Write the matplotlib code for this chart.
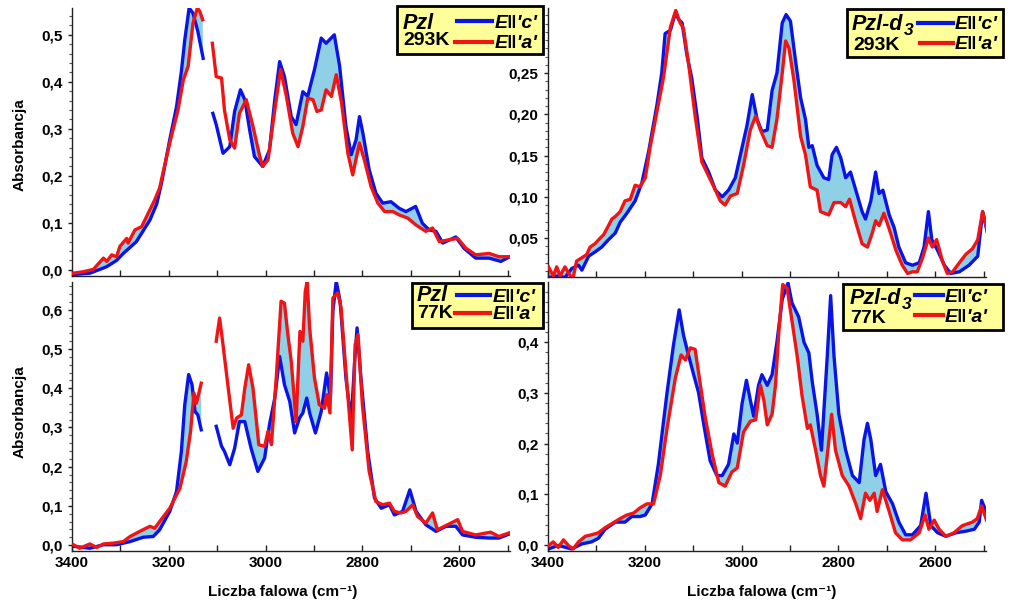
import numpy as np
import matplotlib
matplotlib.use("Agg")
import matplotlib.pyplot as plt
from matplotlib.patches import Rectangle
from matplotlib.lines import Line2D
from matplotlib.ticker import MultipleLocator, FixedLocator, FuncFormatter

plt.rcParams['font.family'] = ['Liberation Sans', 'DejaVu Sans']
plt.rcParams['font.weight'] = 'bold'

nan = np.nan

# ---- Pzl 293K ----
wn_pzl293_c = [3397, 3363, 3335, 3328, 3308, 3294, 3267, 3239, 3225, 3215, 3198, 3184, 3174, 3167, 3158, 3150, 3140, 3129, nan,
               3109, 3102, 3088, 3074, 3064, 3052, 3043, 3033, 3023, 3006, 2992, 2981, 2971, 2961, 2947, 2937, 2923, 2913,
               2899, 2885, 2875, 2858, 2847, 2834, 2823, 2813, 2806, 2799, 2786, 2772, 2758, 2741, 2724, 2710, 2690, 2676,
               2662, 2648, 2634, 2607, 2590, 2566, 2538, 2514, 2497]
ab_pzl293_c = [-0.010, -0.007, 0.004, 0.007, 0.020, 0.035, 0.060, 0.106, 0.140, 0.185, 0.277, 0.347, 0.422, 0.489, 0.557, 0.546, 0.507, 0.450, nan,
               0.333, 0.309, 0.248, 0.262, 0.337, 0.383, 0.362, 0.298, 0.241, 0.220, 0.255, 0.362, 0.443, 0.411, 0.326, 0.309, 0.379, 0.369,
               0.426, 0.493, 0.482, 0.500, 0.433, 0.305, 0.245, 0.277, 0.326, 0.291, 0.213, 0.163, 0.142, 0.145, 0.131, 0.124, 0.135, 0.099,
               0.085, 0.082, 0.057, 0.070, 0.046, 0.025, 0.025, 0.018, 0.027]
wn_pzl293_a = [3397, 3377, 3356, 3335, 3328, 3318, 3308, 3301, 3287, 3284, 3270, 3256, 3239, 3229, 3219, 3198, 3181, 3170, 3160, 3150,
               3141, 3136, 3130, nan,
               3110, 3102, 3091, 3085, 3074, 3064, 3054, 3040, 3026, 3012, 3006, 2995, 2981, 2969, 2957, 2944, 2933, 2923, 2913, 2902,
               2894, 2885, 2875, 2864, 2854, 2843, 2830, 2820, 2806, 2796, 2782, 2768, 2754, 2737, 2724, 2706, 2690, 2669, 2655, 2641,
               2621, 2603, 2586, 2566, 2538, 2518, 2497]
ab_pzl293_a = [-0.007, -0.004, 0.001, 0.025, 0.018, 0.032, 0.028, 0.050, 0.067, 0.057, 0.085, 0.092, 0.128, 0.149, 0.174, 0.270, 0.340, 0.404, 0.433, 0.525,
               0.557, 0.550, 0.532, nan,
               0.482, 0.411, 0.408, 0.340, 0.277, 0.259, 0.333, 0.362, 0.305, 0.241, 0.220, 0.234, 0.340, 0.426, 0.369, 0.291, 0.262, 0.305, 0.365, 0.362,
               0.337, 0.340, 0.383, 0.369, 0.415, 0.355, 0.248, 0.202, 0.270, 0.234, 0.177, 0.142, 0.124, 0.124, 0.117, 0.110, 0.096, 0.082, 0.089, 0.060,
               0.064, 0.067, 0.046, 0.032, 0.035, 0.028, 0.028]

# ---- Pzl 77K ----
wn_pzl77_c = [3397, 3363, 3335, 3308, 3280, 3253, 3232, 3219, 3198, 3184, 3174, 3167, 3159, 3152, 3146, 3140, 3133, nan,
              3102, 3091, 3085, 3074, 3064, 3054, 3043, 3030, 3016, 3002, 2992, 2981, 2971, 2961, 2950, 2940, 2930, 2923, 2915,
              2909, 2897, 2885, 2874, 2866, 2861, 2854, 2846, 2834, 2823, 2816, 2811, 2803, 2789, 2775, 2761, 2744, 2734, 2717,
              2702, 2689, 2669, 2648, 2627, 2607, 2593, 2566, 2538, 2518, 2497]
ab_pzl77_c = [-0.003, -0.008, 0.001, 0.001, 0.009, 0.020, 0.022, 0.039, 0.086, 0.137, 0.239, 0.358, 0.435, 0.409, 0.341, 0.332, 0.294, nan,
              0.303, 0.252, 0.239, 0.205, 0.247, 0.315, 0.315, 0.247, 0.188, 0.222, 0.307, 0.375, 0.481, 0.409, 0.366, 0.286, 0.324, 0.337, 0.375,
              0.337, 0.286, 0.341, 0.439, 0.375, 0.596, 0.673, 0.622, 0.426, 0.315, 0.469, 0.554, 0.426, 0.239, 0.120, 0.094, 0.103, 0.077, 0.086,
              0.141, 0.086, 0.052, 0.035, 0.048, 0.048, 0.026, 0.020, 0.018, 0.018, 0.028]
wn_pzl77_a = [3397, 3384, 3363, 3349, 3335, 3315, 3294, 3280, 3260, 3239, 3229, 3219, 3198, 3177, 3164, 3155, 3148, 3143, 3137, 3133, nan,
              3102, 3095, 3088, 3078, 3067, 3060, 3050, 3043, 3035, 3026, 3014, 3002, 2995, 2988, 2978, 2968, 2961, 2954, 2947, 2937,
              2929, 2923, 2918, 2914, 2909, 2899, 2889, 2878, 2874, 2867, 2861, 2851, 2844, 2834, 2821, 2815, 2809, 2800, 2786, 2772,
              2758, 2744, 2734, 2720, 2710, 2696, 2686, 2669, 2655, 2645, 2624, 2603, 2593, 2566, 2535, 2518, 2497]
ab_pzl77_a = [0.001, -0.008, 0.003, -0.006, 0.003, 0.005, 0.009, 0.022, 0.035, 0.048, 0.043, 0.060, 0.094, 0.145, 0.213, 0.290, 0.388, 0.362, 0.392, 0.413, nan,
              0.520, 0.579, 0.511, 0.409, 0.298, 0.324, 0.332, 0.400, 0.460, 0.400, 0.256, 0.252, 0.290, 0.256, 0.426, 0.622, 0.617, 0.537, 0.469, 0.315,
              0.545, 0.520, 0.647, 0.673, 0.554, 0.426, 0.358, 0.349, 0.384, 0.337, 0.630, 0.643, 0.605, 0.443, 0.243, 0.511, 0.537, 0.358, 0.188, 0.111,
              0.103, 0.107, 0.086, 0.082, 0.086, 0.103, 0.073, 0.056, 0.082, 0.039, 0.052, 0.065, 0.035, 0.026, 0.033, 0.022, 0.031]

# ---- Pzl-d3 293K ----
wn_d3293_c = [3399, 3379, 3365, 3351, 3337, 3330, 3316, 3303, 3289, 3275, 3261, 3251, 3237, 3220, 3206, 3192, 3175, 3165, 3158, 3147,
              3137, 3130, 3123, 3113, 3103, 3092, 3082, 3068, 3054, 3040, 3027, 3013, 2999, 2989, 2978, 2968, 2958, 2947, 2937, 2927,
              2916, 2908, 2899, 2889, 2878, 2868, 2861, 2854, 2844, 2830, 2820, 2813, 2804, 2795, 2785, 2775, 2764, 2751, 2744, 2733,
              2723, 2716, 2708, 2695, 2685, 2675, 2661, 2647, 2633, 2623, 2614, 2607, 2595, 2581, 2568, 2550, 2530, 2512, 2502, 2492]
ab_d3293_c = [0.002, 0.004, 0.002, 0.013, 0.017, 0.011, 0.028, 0.033, 0.039, 0.048, 0.056, 0.069, 0.080, 0.095, 0.117, 0.155, 0.211, 0.250, 0.298, 0.302,
              0.323, 0.315, 0.311, 0.272, 0.244, 0.198, 0.147, 0.130, 0.108, 0.100, 0.108, 0.123, 0.160, 0.186, 0.224, 0.194, 0.179, 0.181, 0.229, 0.250,
              0.311, 0.321, 0.313, 0.267, 0.220, 0.194, 0.160, 0.162, 0.138, 0.123, 0.121, 0.151, 0.160, 0.147, 0.123, 0.130, 0.108, 0.082, 0.073, 0.095,
              0.130, 0.104, 0.108, 0.078, 0.063, 0.039, 0.020, 0.017, 0.020, 0.039, 0.082, 0.048, 0.035, 0.017, 0.007, 0.009, 0.017, 0.028, 0.082, 0.056]
wn_d3293_a = [3399, 3389, 3382, 3375, 3365, 3354, 3348, 3341, 3330, 3320, 3313, 3303, 3292, 3285, 3275, 3268, 3261, 3251, 3241, 3230,
              3220, 3210, 3199, 3189, 3175, 3161, 3147, 3136, 3127, 3120, 3109, 3096, 3082, 3068, 3054, 3044, 3034, 3023, 3009, 2996,
              2982, 2971, 2961, 2947, 2937, 2927, 2916, 2909, 2902, 2892, 2878, 2868, 2858, 2844, 2837, 2820, 2809, 2795, 2785, 2777,
              2764, 2751, 2740, 2730, 2723, 2716, 2706, 2695, 2681, 2668, 2657, 2647, 2637, 2626, 2614, 2606, 2597, 2585, 2575, 2564,
              2550, 2537, 2523, 2512, 2502, 2492]
ab_d3293_a = [0.015, 0.004, 0.015, 0.004, 0.015, 0.004, 0.002, 0.022, 0.026, 0.030, 0.039, 0.043, 0.050, 0.054, 0.065, 0.073, 0.076, 0.082, 0.095, 0.097,
              0.114, 0.112, 0.123, 0.160, 0.203, 0.246, 0.306, 0.326, 0.311, 0.304, 0.259, 0.198, 0.142, 0.125, 0.108, 0.095, 0.090, 0.101, 0.104, 0.138,
              0.181, 0.198, 0.181, 0.162, 0.160, 0.194, 0.250, 0.289, 0.280, 0.242, 0.173, 0.151, 0.112, 0.108, 0.082, 0.078, 0.093, 0.093, 0.088, 0.097,
              0.069, 0.043, 0.039, 0.056, 0.071, 0.065, 0.080, 0.061, 0.035, 0.017, 0.007, 0.009, 0.009, 0.026, 0.050, 0.039, 0.048, 0.022, 0.007, 0.009,
              0.020, 0.030, 0.037, 0.048, 0.082, 0.058]

# ---- Pzl-d3 77K ----
wn_d377_c = [3399, 3379, 3351, 3330, 3310, 3296, 3282, 3261, 3241, 3227, 3210, 3199, 3185, 3172, 3154, 3141, 3129, 3120, 3109, 3099,
             3089, 3078, 3065, 3051, 3040, 3027, 3016, 3009, 2999, 2990, 2982, 2975, 2965, 2958, 2947, 2937, 2927, 2916, 2904, 2896,
             2882, 2871, 2861, 2854, 2844, 2835, 2823, 2816, 2809, 2799, 2785, 2771, 2757, 2747, 2740, 2733, 2723, 2713, 2702, 2688,
             2675, 2661, 2647, 2630, 2619, 2609, 2595, 2578, 2557, 2537, 2519, 2509, 2504, 2492]
ab_d377_c = [-0.008, -0.001, -0.008, 0.002, 0.006, 0.013, 0.031, 0.045, 0.045, 0.056, 0.056, 0.059, 0.081, 0.159, 0.301, 0.393, 0.464, 0.414, 0.372, 0.336,
             0.301, 0.237, 0.166, 0.137, 0.137, 0.159, 0.219, 0.201, 0.279, 0.325, 0.286, 0.254, 0.315, 0.336, 0.315, 0.336, 0.400, 0.485, 0.517, 0.478,
             0.450, 0.400, 0.379, 0.322, 0.258, 0.187, 0.372, 0.492, 0.372, 0.258, 0.187, 0.137, 0.123, 0.208, 0.240, 0.208, 0.137, 0.159, 0.105, 0.081,
             0.045, 0.020, 0.020, 0.038, 0.102, 0.038, 0.024, 0.017, 0.024, 0.027, 0.031, 0.045, 0.088, 0.059]
wn_d377_a = [3399, 3389, 3379, 3368, 3358, 3348, 3337, 3323, 3310, 3296, 3282, 3268, 3251, 3237, 3223, 3210, 3196, 3182, 3168, 3154,
             3137, 3125, 3116, 3106, 3096, 3085, 3075, 3061, 3047, 3034, 3020, 3009, 2996, 2982, 2971, 2961, 2954, 2947, 2937, 2930,
             2923, 2915, 2906, 2896, 2885, 2875, 2864, 2858, 2847, 2837, 2830, 2821, 2814, 2806, 2792, 2778, 2764, 2754, 2744, 2735,
             2726, 2720, 2709, 2695, 2682, 2668, 2651, 2633, 2621, 2613, 2602, 2592, 2578, 2561, 2544, 2523, 2513, 2504, 2494]
ab_d377_a = [-0.001, 0.006, -0.005, 0.010, -0.001, -0.008, 0.006, 0.017, 0.020, 0.024, 0.034, 0.042, 0.052, 0.059, 0.063, 0.073, 0.081, 0.081, 0.137, 0.230,
             0.329, 0.375, 0.365, 0.389, 0.386, 0.315, 0.251, 0.180, 0.123, 0.116, 0.144, 0.152, 0.223, 0.244, 0.247, 0.315, 0.286, 0.237, 0.258, 0.315,
             0.421, 0.514, 0.507, 0.443, 0.372, 0.294, 0.230, 0.237, 0.187, 0.137, 0.116, 0.194, 0.258, 0.187, 0.137, 0.116, 0.081, 0.052, 0.102, 0.088,
             0.102, 0.066, 0.109, 0.066, 0.024, 0.010, 0.010, 0.024, 0.059, 0.031, 0.049, 0.031, 0.017, 0.024, 0.038, 0.045, 0.052, 0.077, 0.049]

panels = [
    # series c, series a, ylim, yticks, decimals, minor step, name, temperature, no-fill band
    (wn_pzl293_c, ab_pzl293_c, wn_pzl293_a, ab_pzl293_a, (-0.013, 0.557), [0.0, 0.1, 0.2, 0.3, 0.4, 0.5], 1, 0.02, 'Pzl', '293K', (3076, 3120)),
    (wn_d3293_c, ab_d3293_c, wn_d3293_a, ab_d3293_a, (0.0027, 0.329), [0.05, 0.10, 0.15, 0.20, 0.25], 2, 0.01, 'Pzl-d', '293K', None),
    (wn_pzl77_c, ab_pzl77_c, wn_pzl77_a, ab_pzl77_a, (-0.015, 0.671), [0.0, 0.1, 0.2, 0.3, 0.4, 0.5, 0.6], 1, 0.02, 'Pzl', '77K', (3066, 3120)),
    (wn_d377_c, ab_d377_c, wn_d377_a, ab_d377_a, (-0.012, 0.519), [0.0, 0.1, 0.2, 0.3, 0.4], 1, 0.02, 'Pzl-d', '77K', None),
]

# axes boxes in pixels (left, top, right, bottom)
boxes = [(72, 8, 510, 276), (548, 8, 986, 277), (72, 282, 510, 551), (548, 282, 986, 551)]

# legend layout in pixels; text y values are baselines
legends = [
    dict(box=(397, 6, 543, 54), name=(403, 29), temp=(403, 45), lc=(457, 492, 21), la=(455, 492, 42), ex=495, ey=(28, 48)),
    dict(box=(847, 9, 1003, 57), name=(852, 30), temp=(853, 50), lc=(918, 953, 23), la=(920, 953, 43), ex=955, ey=(29, 49)),
    dict(box=(412, 283, 543, 328), name=(417, 301), temp=(417, 318), lc=(457, 490, 295), la=(455, 490, 313), ex=493, ey=(302, 319)),
    dict(box=(843, 284, 1003, 330), name=(850, 304), temp=(850, 323), lc=(915, 943, 295), la=(915, 943, 315), ex=945, ey=(302, 322)),
]

W, H = 1024, 616
fig = plt.figure(figsize=(W / 100, H / 100), dpi=100)


def fx(x):
    return x / W


def fy(y):
    return 1 - y / H


def segments(x, y):
    x = np.asarray(x, float)
    y = np.asarray(y, float)
    cut = np.where(np.isnan(x))[0]
    out = []
    for sx, sy in zip(np.split(x, cut), np.split(y, cut)):
        m = ~np.isnan(sx)
        out.append((sx[m], sy[m]))
    return out


def outside(sx, sy, band):
    if band is None:
        return sx, sy
    m = ~((sx > band[0]) & (sx < band[1]))
    return sx[m], sy[m]


blue = '#0a14e6'
red = '#f01414'
fillc = '#8fd0e6'

for i, (xc, yc, xa, ya, ylim, yt, dec, minor, name, temp, band) in enumerate(panels):
    l, t, r, b = boxes[i]
    ax = fig.add_axes([fx(l), fy(b), fx(r - l), (b - t) / H])
    for (sxc, syc), (sxa, sya) in zip(segments(xc, yc), segments(xa, ya)):
        sxc, syc = outside(sxc, syc, band)
        sxa, sya = outside(sxa, sya, band)
        ax.fill(np.r_[sxc, sxa[::-1]], np.r_[syc, sya[::-1]], color=fillc, lw=0, zorder=1)
    ax.plot(xc, yc, color=blue, lw=2.4, zorder=2)
    ax.plot(xa, ya, color=red, lw=2.4, zorder=3)
    ax.set_xlim(3400, 2495)
    ax.set_ylim(*ylim)
    for s in ['top', 'right']:
        ax.spines[s].set_visible(False)
    for s in ['left', 'bottom']:
        ax.spines[s].set_color('#222222')
        ax.spines[s].set_linewidth(1.0)
    ax.xaxis.set_major_locator(FixedLocator([3400, 3200, 3000, 2800, 2600]))
    ax.xaxis.set_minor_locator(MultipleLocator(100))
    ax.yaxis.set_major_locator(FixedLocator(yt))
    ax.yaxis.set_minor_locator(MultipleLocator(minor))
    ax.yaxis.set_major_formatter(FuncFormatter(lambda v, _, d=dec: f"{v:.{d}f}".replace('.', ',')))
    ax.tick_params(axis='x', which='both', direction='in', length=4, width=1, color='#222222')
    ax.tick_params(axis='y', which='major', direction='out', length=3, width=1, color='#222222', pad=4)
    ax.tick_params(axis='y', which='minor', direction='out', length=2, width=0.8, color='#555555')
    ax.tick_params(labelsize=11)
    for lab in ax.get_xticklabels() + ax.get_yticklabels():
        lab.set_fontweight('bold')
    if i < 2:
        ax.tick_params(axis='x', labelbottom=False)
    ax.patch.set_alpha(0)

    # legend box
    lg = legends[i]
    bx0, by0, bx1, by1 = lg['box']
    fig.add_artist(Rectangle((fx(bx0), fy(by1)), fx(bx1 - bx0), (by1 - by0) / H, transform=fig.transFigure,
                             facecolor='#ffff99', edgecolor='black', lw=2, zorder=5))
    fig.text(fx(lg['name'][0]), fy(lg['name'][1]), name, fontsize=15.5, fontweight='bold', style='italic',
             va='baseline', ha='left', zorder=7)
    if name == 'Pzl-d':
        fig.text(fx(lg['name'][0] + 52), fy(lg['name'][1] + 5), '3', fontsize=12.5, fontweight='bold',
                 style='italic', va='baseline', ha='left', zorder=7)
    fig.text(fx(lg['temp'][0]), fy(lg['temp'][1]), temp, fontsize=14, fontweight='bold',
             va='baseline', ha='left', zorder=7)
    for (x0, x1, yy), col in [(lg['lc'], blue), (lg['la'], red)]:
        fig.add_artist(Line2D([fx(x0), fx(x1)], [fy(yy), fy(yy)], transform=fig.transFigure,
                              color=col, lw=3, zorder=6))
    for lab, yy in zip(["E\u2016'c'", "E\u2016'a'"], lg['ey']):
        fig.text(fx(lg['ex']), fy(yy), lab, fontsize=14, fontweight='bold', style='italic',
                 va='baseline', ha='left', zorder=7)

fig.text(fx(20), fy(145), 'Absorbancja', rotation=90, fontsize=11, fontweight='bold', ha='center', va='center')
fig.text(fx(20), fy(412), 'Absorbancja', rotation=90, fontsize=11, fontweight='bold', ha='center', va='center')
fig.text(fx(283), fy(592), 'Liczba falowa (cm\u207b\u00b9)', fontsize=11, fontweight='bold', ha='center', va='center')
fig.text(fx(762), fy(592), 'Liczba falowa (cm\u207b\u00b9)', fontsize=11, fontweight='bold', ha='center', va='center')

fig.savefig('out.png', dpi=100)
